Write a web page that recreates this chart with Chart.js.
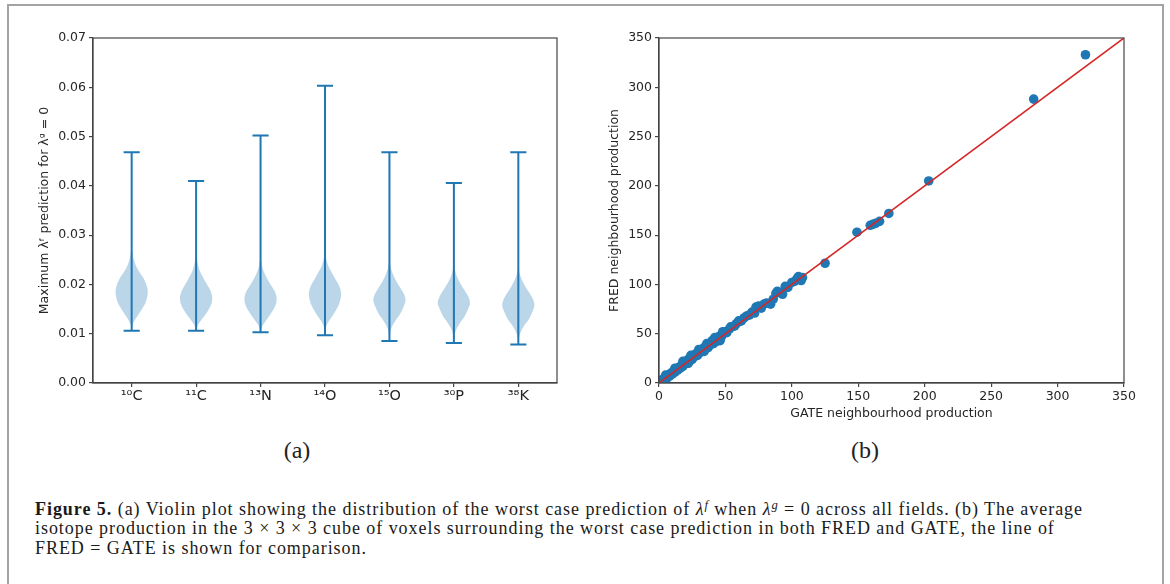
<!DOCTYPE html>
<html>
<head>
<meta charset="utf-8">
<script src="https://cdn.jsdelivr.net/npm/chart.js@4.4.1/dist/chart.umd.min.js"></script>
<style>
  html, body { margin: 0; padding: 0; background: #fff; }
  body { width: 1170px; height: 584px; position: relative; overflow: hidden; }
  #frame { position: absolute; left: 7px; top: 4px; width: 1153px; height: 640px; border: 2px solid #a3a3a3; }
  #violinChart { position: absolute; left: 0; top: 0; }
  #scatterChart { position: absolute; left: 580px; top: 0; }
  .panel { position: absolute; top: 437px; width: 80px; margin-left: -40px; text-align: center;
           font-family: 'Liberation Serif', serif; font-size: 24px; color: #222; }
  #caption { position: absolute; left: 35px; top: 500px; font-family: 'Liberation Serif', serif;
             font-size: 18px; line-height: 19.4px; color: #1a1a1a; white-space: nowrap; }
  #caption sup { font-size: 0.7em; line-height: 0; vertical-align: 0.45em; }
</style>
</head>
<body>
<div id="frame"></div>
<canvas id="violinChart" width="580" height="424"></canvas>
<canvas id="scatterChart" width="590" height="424"></canvas>
<div class="panel" style="left:297px">(a)</div>
<div class="panel" style="left:865px">(b)</div>
<div id="caption">
  <span id="capLine1"><b>Figure 5.</b> (a) Violin plot showing the distribution of the worst case prediction of <i>λ</i><sup><i>f</i></sup> when <i>λ</i><sup><i>g</i></sup> = 0 across all fields. (b) The average</span><br>
  <span>isotope production in the 3 × 3 × 3 cube of voxels surrounding the worst case prediction in both FRED and GATE, the line of</span><br>
  <span>FRED = GATE is shown for comparison.</span>
</div>
<script>
// (a) violin plot
const isotopes = ['¹⁰C', '¹¹C', '¹³N', '¹⁴O', '¹⁵O', '³⁰P', '³⁸K'];
const violinMin = [0.0106, 0.0106, 0.0103, 0.0097, 0.0085, 0.0081, 0.0078];
const violinMax = [0.0468, 0.0410, 0.0502, 0.0603, 0.0468, 0.0406, 0.0468];
// body outline: heights and half widths (max half width 0.25)
const violinLevels = [
    [0.0106, 0.0120, 0.0130, 0.0140, 0.0152, 0.0165, 0.0183, 0.0197, 0.0211, 0.0225, 0.0240, 0.0255, 0.0275],
    [0.0106, 0.0118, 0.0128, 0.0138, 0.0150, 0.0162, 0.0174, 0.0188, 0.0202, 0.0216, 0.0230, 0.0245, 0.0260],
    [0.0103, 0.0116, 0.0126, 0.0137, 0.0149, 0.0161, 0.0173, 0.0186, 0.0199, 0.0212, 0.0226, 0.0240, 0.0255],
    [0.0097, 0.0115, 0.0126, 0.0137, 0.0150, 0.0165, 0.0182, 0.0197, 0.0211, 0.0225, 0.0238, 0.0252, 0.0268],
    [0.0085, 0.0105, 0.0117, 0.0128, 0.0141, 0.0155, 0.0169, 0.0182, 0.0195, 0.0208, 0.0222, 0.0235, 0.0250],
    [0.0081, 0.0100, 0.0112, 0.0123, 0.0136, 0.0150, 0.0163, 0.0176, 0.0189, 0.0202, 0.0215, 0.0228, 0.0242],
    [0.0078, 0.0095, 0.0107, 0.0118, 0.0131, 0.0145, 0.0159, 0.0172, 0.0185, 0.0198, 0.0211, 0.0222, 0.0235]
];
const violinWidths = [
    [0, 0.02, 0.06, 0.11, 0.17, 0.22, 0.25, 0.235, 0.19, 0.12, 0.06, 0.025, 0],
    [0, 0.03, 0.08, 0.14, 0.20, 0.24, 0.25, 0.22, 0.16, 0.10, 0.05, 0.02, 0],
    [0, 0.03, 0.08, 0.14, 0.20, 0.24, 0.25, 0.22, 0.16, 0.10, 0.05, 0.02, 0],
    [0, 0.02, 0.06, 0.12, 0.18, 0.23, 0.25, 0.22, 0.16, 0.10, 0.05, 0.02, 0],
    [0, 0.015, 0.05, 0.10, 0.17, 0.22, 0.25, 0.22, 0.16, 0.10, 0.05, 0.02, 0],
    [0, 0.015, 0.05, 0.10, 0.17, 0.22, 0.25, 0.22, 0.16, 0.10, 0.05, 0.02, 0],
    [0, 0.015, 0.05, 0.10, 0.17, 0.22, 0.25, 0.22, 0.16, 0.10, 0.05, 0.02, 0]
];
const violinTicks = [0, 0.01, 0.02, 0.03, 0.04, 0.05, 0.06, 0.07];

// (b) FRED vs GATE neighbourhood production
const gateValues = [0.5, 1.5, 2.5, 3, 4, 5, 6, 7, 8, 9,
    10, 11, 12, 13, 14, 15, 16, 17, 18, 19,
    20, 21, 22, 23, 24, 25, 26, 27, 28, 29,
    30, 31, 32, 33, 34, 35, 36, 37, 38, 39,
    40, 41, 42, 43, 44, 45, 46, 47, 48, 50,
    51, 53, 55, 57, 58, 60, 62, 64, 66, 68,
    70, 72, 73, 75, 77, 79, 81, 84, 86, 88,
    89, 91, 93, 95, 97, 100, 102, 104, 105, 107,
    108, 125, 149, 159, 161, 163, 166, 173, 203, 282,
    321,
    5, 12, 18, 22, 24, 30, 34, 36, 42, 46, 48, 54, 60];
const fredValues = [1, 2, 1.5, 4, 3, 6, 5, 8, 7, 10,
    9, 12, 11, 14, 13, 16, 15, 18, 17, 20,
    22, 20, 24, 22, 26, 24, 28, 27, 30, 28,
    32, 31, 34, 32, 36, 35, 38, 36, 40, 39,
    43, 40, 44, 42, 46, 44, 48, 47, 50, 52,
    51, 55, 57, 58, 60, 62, 63, 66, 68, 69,
    72, 71, 77, 78, 76, 80, 81, 80, 85, 91,
    93, 92, 90, 98, 97, 102, 103, 106, 108, 104,
    107, 121.5, 153, 160, 161, 162, 164, 172, 205, 288,
    333,
    8, 15, 22, 20, 28, 34, 32, 40, 46, 43, 52, 57, 63];
const identityLine = [0, 350];
const productionTicks = [0, 50, 100, 150, 200, 250, 300, 350];

const blue = '#1f77b4';
const spineColor = '#454545';

Chart.defaults.font.family = "'DejaVu Sans', sans-serif";
Chart.defaults.font.size = 12.5;
Chart.defaults.color = '#262626';

// full box round the plot area, like matplotlib spines
const boxPlugin = {
    id: 'box',
    afterDraw(chart) {
        const { ctx, chartArea: a } = chart;
        ctx.save();
        ctx.strokeStyle = spineColor;
        ctx.lineWidth = 1.2;
        ctx.strokeRect(a.left, a.top, a.right - a.left, a.bottom - a.top);
        ctx.restore();
    }
};

function axisStyle() {
    return {
        grid: { display: true, drawOnChartArea: false, drawTicks: true, tickLength: 4, color: spineColor, lineWidth: 1.2 },
        border: { display: true, color: spineColor, width: 1.2 }
    };
}

function violinOutline(i) {
    const pos = i + 1;
    const lv = violinLevels[i];
    const w = violinWidths[i];
    const right = lv.map((y, k) => ({ x: pos + w[k], y }));
    const left = lv.map((y, k) => ({ x: pos - w[k], y })).reverse();
    return right.concat(left.slice(1));
}

function violinBars(i) {
    const pos = i + 1;
    const c = 0.125;
    const lo = violinMin[i], hi = violinMax[i];
    return [
        { x: pos - c, y: lo }, { x: pos + c, y: lo }, { x: pos, y: lo },
        { x: pos, y: hi }, { x: pos - c, y: hi }, { x: pos + c, y: hi }
    ];
}

const violinDatasets = [];
isotopes.forEach((name, i) => {
    violinDatasets.push({
        data: violinOutline(i),
        fill: 'shape',
        backgroundColor: 'rgba(31, 119, 180, 0.3)',
        borderWidth: 0,
        borderColor: 'rgba(0,0,0,0)',
        pointRadius: 0,
        tension: 0.35,
        order: 2
    });
    violinDatasets.push({
        data: violinBars(i),
        fill: false,
        borderColor: blue,
        borderWidth: 2,
        pointRadius: 0,
        tension: 0,
        order: 1
    });
});

const violinX = axisStyle();
violinX.type = 'linear';
violinX.min = 0.4;
violinX.max = 7.6;
violinX.afterBuildTicks = (scale) => { scale.ticks = isotopes.map((_, i) => ({ value: i + 1 })); };
violinX.afterFit = (scale) => { scale.height = 41; };
violinX.ticks = { autoSkip: false, maxRotation: 0, padding: 1, font: { size: 14.5 }, callback: (v) => isotopes[v - 1] };

const violinY = axisStyle();
violinY.type = 'linear';
violinY.min = 0;
violinY.max = 0.07;
violinY.afterBuildTicks = (scale) => { scale.ticks = violinTicks.map(v => ({ value: v })); };
violinY.afterFit = (scale) => { scale.width = 93; };
violinY.ticks = { padding: 3, callback: (v) => v.toFixed(2) };
violinY.title = { display: true, text: 'Maximum λᶠ prediction for λᵍ = 0', padding: { top: 37, bottom: 0 }, font: { size: 12.5 } };

new Chart(document.getElementById('violinChart'), {
    type: 'line',
    data: { datasets: violinDatasets },
    options: {
        responsive: false,
        animation: false,
        devicePixelRatio: 1,
        layout: { padding: { top: 38, right: 23, left: 0, bottom: 0 } },
        plugins: { legend: { display: false }, tooltip: { enabled: false } },
        scales: { x: violinX, y: violinY }
    },
    plugins: [boxPlugin]
});

const scatterX = axisStyle();
scatterX.type = 'linear';
scatterX.min = 0;
scatterX.max = 350;
scatterX.afterBuildTicks = (scale) => { scale.ticks = productionTicks.map(v => ({ value: v })); };
scatterX.afterFit = (scale) => { scale.height = 41; };
scatterX.ticks = { maxRotation: 0, padding: 2 };
scatterX.title = { display: true, text: 'GATE neighbourhood production', padding: { top: 0, bottom: 2.5 }, font: { size: 12.5 } };

const scatterY = axisStyle();
scatterY.type = 'linear';
scatterY.min = 0;
scatterY.max = 350;
scatterY.afterBuildTicks = (scale) => { scale.ticks = productionTicks.map(v => ({ value: v })); };
scatterY.afterFit = (scale) => { scale.width = 79; };
scatterY.ticks = { padding: 3 };
scatterY.title = { display: true, text: 'FRED neighbourhood production', padding: { top: 27.5, bottom: 0 }, font: { size: 12.5 } };

new Chart(document.getElementById('scatterChart'), {
    type: 'line',
    data: {
        datasets: [
            {
                data: identityLine.map(v => ({ x: v, y: v })),
                borderColor: '#d62728',
                borderWidth: 1.6,
                pointRadius: 0,
                fill: false,
                order: 0
            },
            {
                data: gateValues.map((g, i) => ({ x: g, y: fredValues[i] })),
                showLine: false,
                pointRadius: 4.8,
                pointBackgroundColor: blue,
                pointBorderWidth: 0,
                order: 1
            }
        ]
    },
    options: {
        responsive: false,
        animation: false,
        devicePixelRatio: 1,
        layout: { padding: { top: 38, right: 46, left: 0, bottom: 0 } },
        plugins: { legend: { display: false }, tooltip: { enabled: false } },
        scales: { x: scatterX, y: scatterY }
    },
    plugins: [boxPlugin]
});

// stretch the caption to the width of the printed one
const line1 = document.getElementById('capLine1');
const naturalWidth = line1.getBoundingClientRect().width;
const spacing = (1048 - naturalWidth) / line1.textContent.length;
document.getElementById('caption').style.letterSpacing = spacing + 'px';
</script>
</body>
</html>
